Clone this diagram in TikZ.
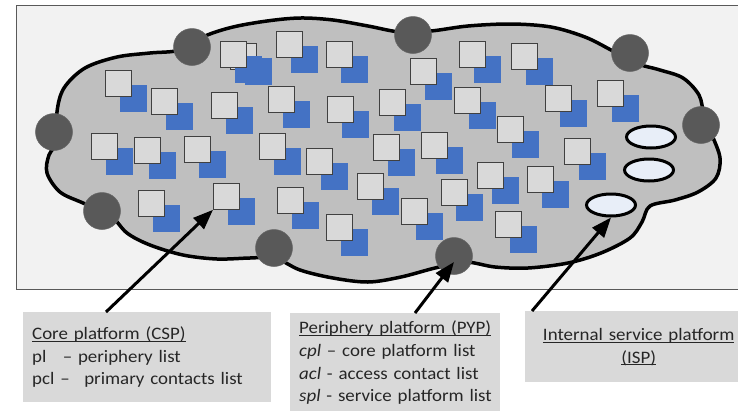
\documentclass[tikz,border=0pt]{standalone}
\usepackage{xcolor}
\usepackage{fontspec}
\setmainfont{Carlito}[FakeStretch=1.08]
\usepackage{tikz}
\usetikzlibrary{arrows.meta, positioning, shapes.geometric}
\definecolor{framegray}{HTML}{F2F2F2}
\definecolor{cloudgray}{HTML}{BFBFBF}
\definecolor{contactgray}{HTML}{595959}
\definecolor{boxgray}{HTML}{D9D9D9}
\definecolor{platblue}{HTML}{4472C4}
\definecolor{ispblue}{HTML}{E8EEF8}
\newcommand{\lbl}[1]{\underbar{#1}}

\tikzset{
	platform/.style={draw=black!75, line width=0.8pt, fill=boxgray, minimum size=26pt, inner sep=0pt, anchor=north west},
	platshade/.style={fill=platblue, minimum size=27pt, inner sep=0pt, anchor=north west},
	contact/.style={circle, fill=contactgray, draw=black!60, line width=0.5pt, minimum size=37pt, inner sep=0pt},
	service/.style={ellipse, draw=black, line width=3pt, fill=ispblue, minimum width=49pt, minimum height=22pt, inner sep=0pt},
	legend/.style={fill=boxgray, anchor=north west, font=\fontsize{17.5}{22.8}\selectfont, text=black!85},
	pointer/.style={line width=3pt, -{Triangle[length=20pt,width=15pt]}}
}

\begin{document}
\begin{tikzpicture}[x=1pt,y=-1pt]% Platform cloud
	\useasboundingbox (0,0) rectangle (738,410);
	\clip (0,0) rectangle (738,410);
	\draw[fill=framegray, draw=contactgray, line width=1pt] (16,5) rectangle (760,289);
	\draw[fill=cloudgray, line width=3.5pt] plot[smooth cycle, tension=0.55] coordinates {
		(57,112) (64,88) (85,68) (117,57) (150,53) (180,50) (205,36) (233,27) (267,21) (300,18)
		(333,20) (368,26) (400,32) (431,31) (468,26) (511,24) (551,27) (585,37) (611,50) (635,63)
		(660,70) (683,78) (699,95) (704,115) (712,135) (720,158) (716,178) (698,192) (675,200) (650,206)
		(642,222) (630,238) (601,253) (568,263) (528,268) (495,267) (465,262) (435,268) (401,277) (368,282)
		(333,278) (300,270) (275,258) (250,258) (217,259) (183,255) (150,245) (127,233) (110,215) (83,203)
		(60,192) (47,173) (49,155) (58,140)};
	% platforms
	\foreach \x/\y [count=\i] in {230/43, 220/41, 276/31, 326/41, 105/70, 151/88, 211/92, 268/86, 327/96,
		91/133, 134/137, 184/136, 259/133, 306/148, 357/173, 138/190, 213/183, 277/187, 326/214,
		410/58, 459/41, 511/43, 379/89, 454/87, 545/85, 597/80, 497/116, 373/134, 421/132,
		564/138, 477/162, 527/166, 441/179, 401/198, 495/211}{
		\node[platshade] at (\x+15,\y+15) {};
		\node[platform] (q\i) at (\x,\y) {};
	}
	\node[service] (e1) at (651,137) {};
	\node[service] (e2) at (649,170) {};
	\node[service] (e3) at (611,205) {};
	\foreach \x/\y [count=\i] in {192/47, 54/132, 102/211, 274/248, 413/35, 630/53, 701/125, 454/256}{
		\node[contact] (c\i) at (\x,\y) {};
	}
	% legends
	\node[legend, text width=230pt, inner xsep=9pt, minimum height=90pt, align=left] (csp) at (23,312)
		{\lbl{Core platform (CSP)}\\ pl\hspace{0.6em} -- periphery list\\ pcl --\hspace{0.5em} primary contacts list};
	\node[legend, text width=192pt, inner xsep=9pt, minimum height=99pt, align=left] (pyp) at (290,313)
		{\mbox{\lbl{Periphery platform (PYP)}}\\ \mbox{\textit{cpl} -- core platform list}\\
		\mbox{\textit{acl} - access contact list}\\ \mbox{\textit{spl} - service platform list}};
	\node[legend, text width=213pt, inner xsep=7pt, minimum height=71pt, align=center] (isp) at (525,311)
		{\lbl{Internal service platform}\\ \lbl{(ISP)}};
	\draw[pointer] ([xshift=83pt]csp.north west) -- (q17.south west);
	\draw[pointer] ([xshift=125pt]pyp.north west) -- ([yshift=-6pt]c8.center);
	\draw[pointer] ([xshift=7pt]isp.north west) -- (e3.south);
\end{tikzpicture}
\end{document}
